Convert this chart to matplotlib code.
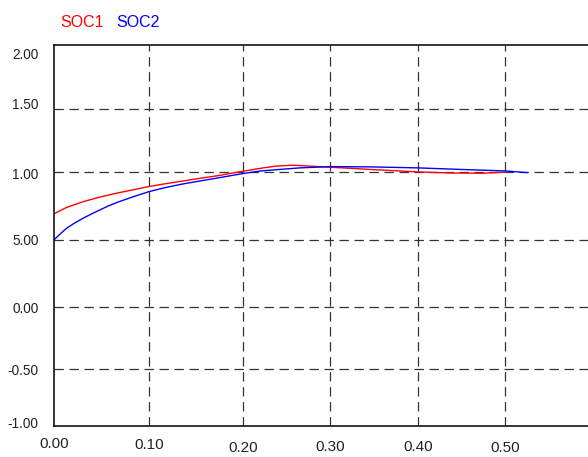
import matplotlib
matplotlib.use('Agg')
import matplotlib.pyplot as plt
from matplotlib.transforms import ScaledTranslation

plt.rcParams['font.family'] = ['Liberation Sans', 'DejaVu Sans']

# values (axis units as drawn)
soc1_x = [0.0, 0.0141, 0.0325, 0.0510, 0.0696, 0.0876, 0.1054, 0.1243,
          0.1434, 0.1620, 0.1805, 0.1964, 0.2119, 0.2285, 0.2463, 0.2651,
          0.2840, 0.3062, 0.3284, 0.3506, 0.3772, 0.4038, 0.4393, 0.4759,
          0.5003]
soc1_y = [0.672, 0.723, 0.768, 0.804, 0.835, 0.861, 0.887, 0.910,
          0.931, 0.952, 0.971, 0.991, 1.010, 1.030, 1.048, 1.055,
          1.048, 1.039, 1.031, 1.022, 1.012, 1.002, 0.994, 0.992,
          1.000]

soc2_x = [0.0, 0.0067, 0.0141, 0.0233, 0.0325, 0.0418, 0.0510, 0.0599,
          0.0696, 0.0876, 0.1054, 0.1243, 0.1434, 0.1620, 0.1805, 0.1964,
          0.2119, 0.2285, 0.2507, 0.2729, 0.3062, 0.3506, 0.4038, 0.4504,
          0.5003, 0.5247]
soc2_y = [0.467, 0.512, 0.559, 0.601, 0.638, 0.672, 0.703, 0.733,
          0.761, 0.806, 0.847, 0.880, 0.908, 0.931, 0.953, 0.973,
          0.992, 1.009, 1.022, 1.034, 1.044, 1.042, 1.034, 1.022,
          1.010, 0.997]

x_ticks = [0.0, 0.1051, 0.2100, 0.3062, 0.4035, 0.5]
x_labels = ['0.00', '0.10', '0.20', '0.30', '0.40', '0.50']
y_ticks = [2.0, 1.498, 1.0, 0.467, -0.063, -0.551, -1.0]
y_labels = ['2.00', '1.50', '1.00', '5.00', '0.00', '-0.50', '-1.00']

fig = plt.figure(figsize=(5.88, 4.57), dpi=100)
ax = fig.add_axes([54 / 588, 31 / 457, 1 - 54 / 588, (426 - 45.3) / 457])

ax.plot(soc1_x, soc1_y, color='#ff0000', lw=1.0, solid_joinstyle='round')
ax.plot(soc2_x, soc2_y, color='#0000ff', lw=1.0, solid_joinstyle='round')

ax.set_xlim(0, 0.5924)
ax.set_ylim(-1.0, 2.0)

ax.set_xticks(x_ticks)
ax.set_xticklabels(x_labels)
ax.set_yticks(y_ticks)
ax.set_yticklabels(y_labels)
ax.tick_params(length=0, colors='#222222')
ax.tick_params(axis='x', pad=10, labelsize=11)
ax.tick_params(axis='y', pad=11, labelsize=9.8)

# labels in the reference are a little off their grid lines (pixels, + is up)
x_shifts = [3, 1.5, -1, -0.5, -0.5, -1.5]
for lab, dy in zip(ax.get_xticklabels(), x_shifts):
    lab.set_transform(lab.get_transform() + ScaledTranslation(0, dy / 100, fig.dpi_scale_trans))
y_shifts = [-8, 6, -1.5, 0, -0.7, -0.7, 3]
for lab, dy in zip(ax.get_yticklabels(), y_shifts):
    lab.set_transform(lab.get_transform() + ScaledTranslation(0, dy / 100, fig.dpi_scale_trans))

# dashed grid, skipping the lines that sit on the frame
for xv in x_ticks[1:]:
    ax.axvline(xv, color='#333333', lw=0.9, ls=(0, (7.5, 4.5)), zorder=0)
for yv in y_ticks[1:-1]:
    ax.axhline(yv, color='#333333', lw=0.9, ls=(0, (7.5, 4.5)), zorder=0)

for side in ['left', 'top', 'bottom']:
    ax.spines[side].set_color('black')
    ax.spines[side].set_linewidth(1.1)
ax.spines['right'].set_visible(False)

fig.text(60 / 588, 1 - 22.7 / 457, 'SOC1', color='#ff0000', fontsize=11.5, va='center')
fig.text(116 / 588, 1 - 22.7 / 457, 'SOC2', color='#0000ff', fontsize=11.5, va='center')

fig.savefig('out.png', dpi=100)
